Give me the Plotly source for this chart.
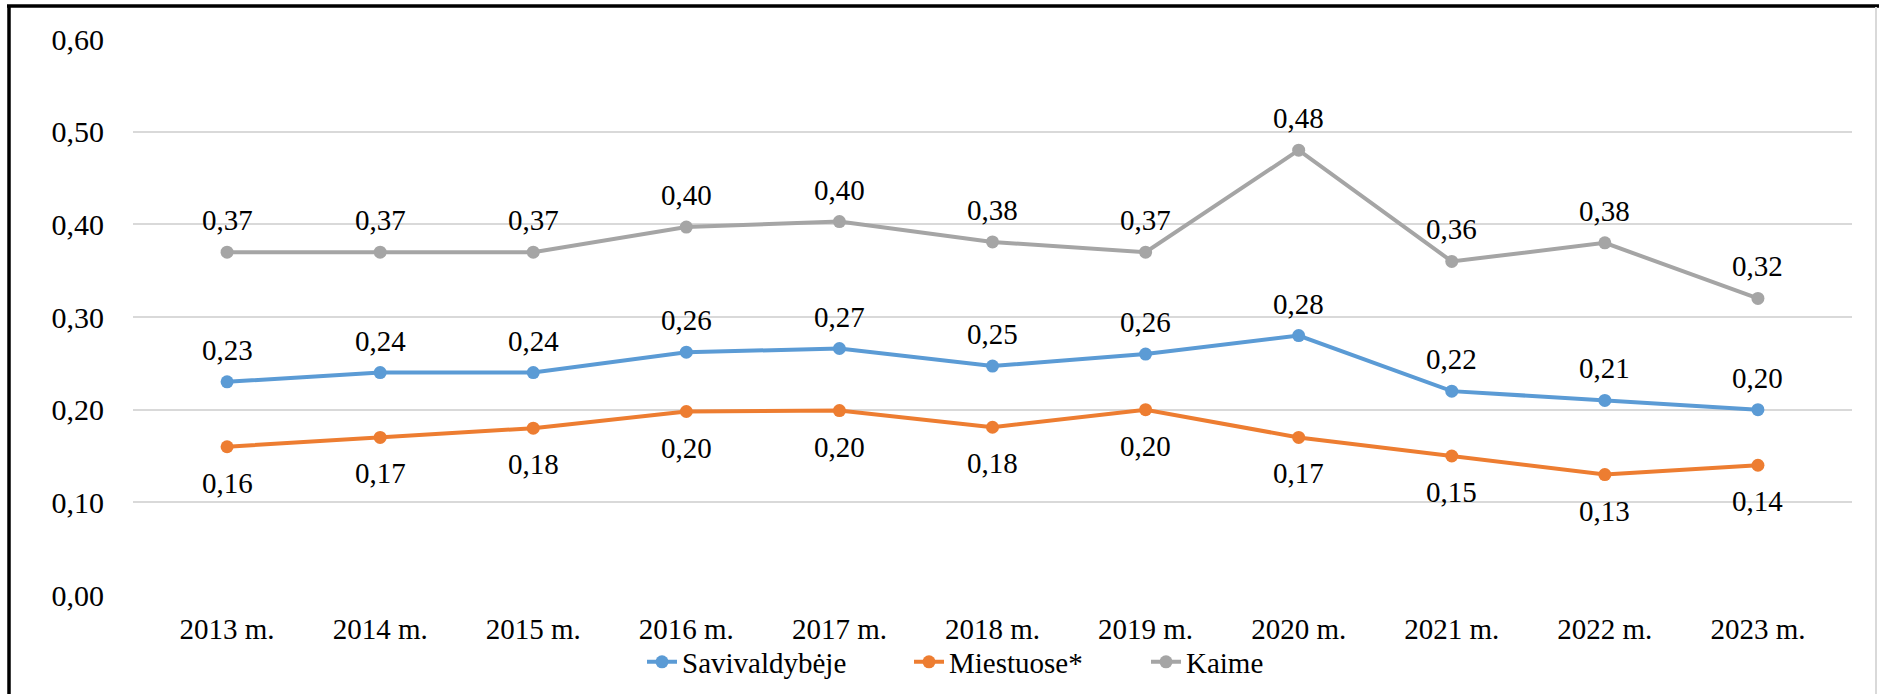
import plotly.graph_objects as go

years = ["2013 m.", "2014 m.", "2015 m.", "2016 m.", "2017 m.", "2018 m.",
         "2019 m.", "2020 m.", "2021 m.", "2022 m.", "2023 m."]
savivaldybeje = [0.23, 0.24, 0.24, 0.262, 0.266, 0.247, 0.26, 0.28, 0.22, 0.21, 0.20]
miestuose = [0.16, 0.17, 0.18, 0.198, 0.199, 0.181, 0.20, 0.17, 0.15, 0.13, 0.14]
kaime = [0.37, 0.37, 0.37, 0.397, 0.403, 0.381, 0.37, 0.48, 0.36, 0.38, 0.32]
y_ticks = [0.0, 0.1, 0.2, 0.3, 0.4, 0.5, 0.6]

series = [
    ("Savivaldybėje", savivaldybeje, "#5B9BD5", 32, 222),
    ("Miestuose*", miestuose, "#ED7D31", -36, 192),
    ("Kaime", kaime, "#A5A5A5", 32, 85),
]

def fmt(v):
    return f"{v:.2f}".replace(".", ",")

serif = "Liberation Serif, Times New Roman, serif"

fig = go.Figure()
annotations = []
for name, vals, color, shift, lw in series:
    fig.add_trace(go.Scatter(
        x=years, y=vals, name=name, mode="lines+markers",
        line=dict(color=color, width=4),
        marker=dict(color=color, size=13),
        legendwidth=lw,
    ))
    for xv, yv in zip(years, vals):
        annotations.append(dict(
            x=xv, y=yv, text=fmt(yv), showarrow=False, yshift=shift,
            font=dict(family=serif, size=29, color="#000000"),
        ))

W, H = 1879, 694
ml, mr, mt, mb = 133, 27, 39, 99
pw, ph = W - ml - mr, H - mt - mb

def px(x):
    return (x - ml) / pw

def py(y):
    return (H - mb - y) / ph

shapes = [
    dict(type="line", xref="paper", yref="paper", x0=px(9), x1=px(9), y0=py(5), y1=py(H + 5),
         line=dict(color="#000000", width=3.5)),
    dict(type="line", xref="paper", yref="paper", x0=px(7), x1=px(W + 5), y0=py(6), y1=py(6),
         line=dict(color="#000000", width=3.5)),
    dict(type="line", xref="paper", yref="paper", x0=px(1876), x1=px(1876), y0=py(7), y1=py(H + 5),
         line=dict(color="#D9D9D9", width=2)),
]

fig.update_layout(
    width=W, height=H,
    margin=dict(l=ml, r=mr, t=mt, b=mb, autoexpand=False),
    paper_bgcolor="#FFFFFF", plot_bgcolor="#FFFFFF",
    showlegend=True,
    legend=dict(orientation="h", x=px(642), xanchor="left", y=py(662), yanchor="middle",
                font=dict(family=serif, size=29, color="#000000"),
                itemwidth=30, tracegroupgap=0, bgcolor="rgba(0,0,0,0)", borderwidth=0),
    xaxis=dict(type="category", showgrid=False, zeroline=False, showline=False,
               ticks="outside", ticklen=8, tickcolor="rgba(0,0,0,0)",
               tickfont=dict(family=serif, size=29, color="#000000")),
    yaxis=dict(range=[0, 0.6], tickvals=y_ticks, ticktext=[fmt(v) for v in y_ticks],
               showgrid=True, gridcolor="#D9D9D9", gridwidth=1.5, zeroline=False,
               showline=False, ticks="outside", ticklen=22, tickcolor="rgba(0,0,0,0)",
               tickfont=dict(family=serif, size=30, color="#000000")),
    annotations=annotations,
    shapes=shapes,
)

fig.write_html("out.html", config={"displayModeBar": False},
               post_script="document.body.style.margin='0';")
